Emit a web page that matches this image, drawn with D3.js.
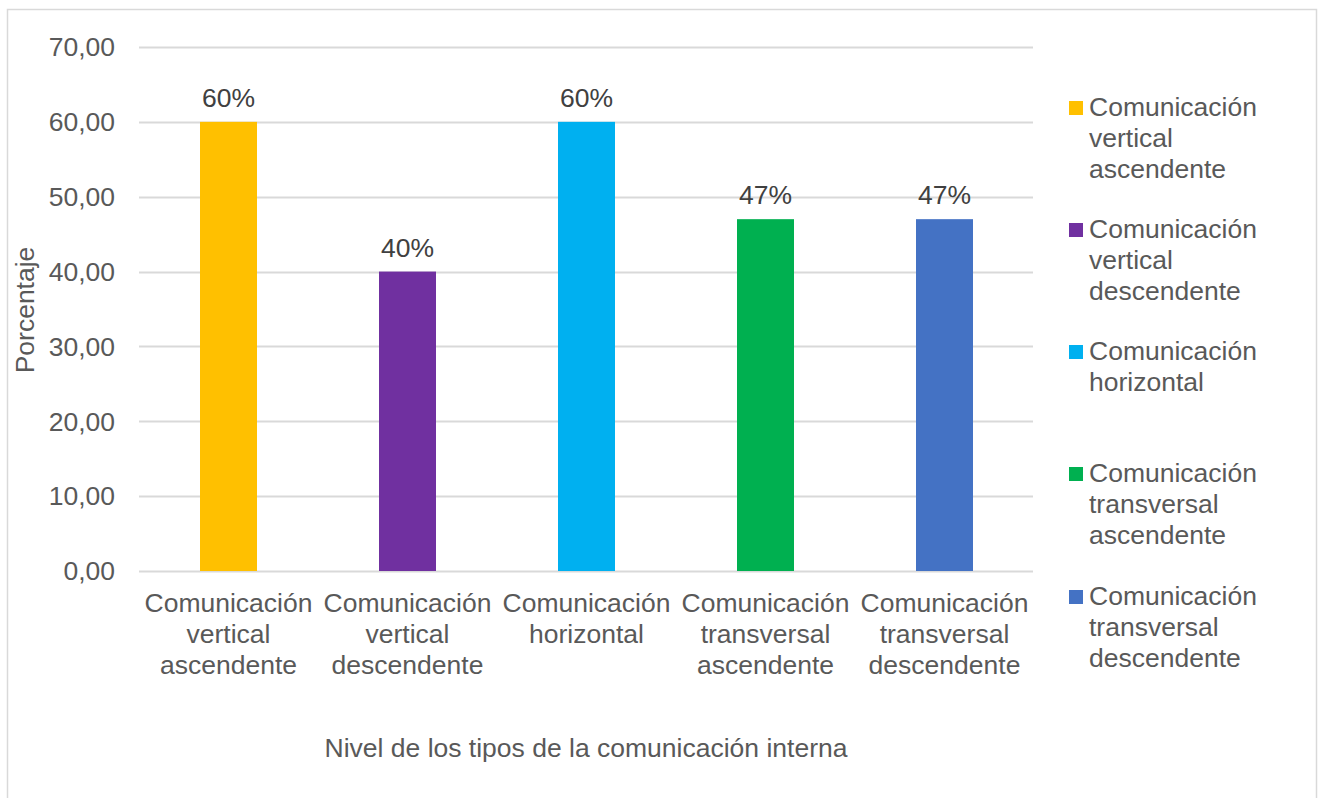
<!DOCTYPE html>
<html>
<head>
<meta charset="utf-8">
<script src="https://cdn.jsdelivr.net/npm/d3@7"></script>
<style>
  html, body { margin: 0; padding: 0; background: #fff; }
  svg { display: block; font-family: "Liberation Sans", Arial, sans-serif; }
</style>
</head>
<body>
<svg id="chart" width="1323" height="798"></svg>
<script>
// Communication types and their percentages
const categories = [
  ["Comunicación", "vertical", "ascendente"],
  ["Comunicación", "vertical", "descendente"],
  ["Comunicación", "horizontal"],
  ["Comunicación", "transversal", "ascendente"],
  ["Comunicación", "transversal", "descendente"]
];
const values = [60, 40, 60, 47, 47];
const valueLabels = ["60%", "40%", "60%", "47%", "47%"];
const colors = ["#FFC000", "#7030A0", "#00B0F0", "#00B050", "#4472C4"];
const yTicks = [0, 10, 20, 30, 40, 50, 60, 70];

const svg = d3.select("#chart");
const textColor = "#595959";
const fontSize = 26.5;

// outer frame
svg.append("rect")
  .attr("x", 7.5).attr("y", 9.5)
  .attr("width", 1309).attr("height", 800)
  .attr("fill", "#fff").attr("stroke", "#d9d9d9").attr("stroke-width", 1.5);

const plot = { left: 139, right: 1034, top: 47, bottom: 571 };

const x = d3.scaleBand()
  .domain(d3.range(categories.length))
  .range([plot.left, plot.right])
  .padding(0);

const y = d3.scaleLinear()
  .domain([0, 70])
  .range([plot.bottom, plot.top]);

const barW = 57;
const cx = i => x(i) + x.bandwidth() / 2;

// gridlines
svg.append("g")
  .selectAll("line")
  .data(yTicks)
  .join("line")
  .attr("x1", plot.left).attr("x2", plot.right - 1)
  .attr("y1", d => Math.round(y(d)) + 0.5).attr("y2", d => Math.round(y(d)) + 0.5)
  .attr("stroke", "#d9d9d9").attr("stroke-width", 2);

// y tick labels
svg.append("g")
  .selectAll("text")
  .data(yTicks)
  .join("text")
  .attr("x", 115)
  .attr("y", d => y(d))
  .attr("dy", "0.35em")
  .attr("text-anchor", "end")
  .attr("fill", textColor)
  .attr("font-size", fontSize)
  .text(d => d3.format(".2f")(d).replace(".", ","));

// bars
svg.append("g")
  .selectAll("rect")
  .data(values)
  .join("rect")
  .attr("x", (d, i) => cx(i) - barW / 2)
  .attr("y", d => y(d))
  .attr("width", barW)
  .attr("height", d => y(0) - y(d))
  .attr("fill", (d, i) => colors[i]);

// value labels
svg.append("g")
  .selectAll("text")
  .data(values)
  .join("text")
  .attr("x", (d, i) => cx(i))
  .attr("y", d => y(d) - 15)
  .attr("text-anchor", "middle")
  .attr("fill", "#404040")
  .attr("font-size", fontSize)
  .text((d, i) => valueLabels[i]);

// category labels
const catG = svg.append("g");
categories.forEach((lines, i) => {
  const t = catG.append("text")
    .attr("text-anchor", "middle")
    .attr("fill", textColor)
    .attr("font-size", fontSize);
  lines.forEach((ln, j) => {
    t.append("tspan")
      .attr("x", cx(i))
      .attr("y", 612 + j * 31)
      .text(ln);
  });
});

// axis titles
svg.append("text")
  .attr("x", 586)
  .attr("y", 757)
  .attr("text-anchor", "middle")
  .attr("fill", textColor)
  .attr("font-size", fontSize)
  .text("Nivel de los tipos de la comunicación interna");

svg.append("text")
  .attr("transform", "translate(34,310) rotate(-90)")
  .attr("text-anchor", "middle")
  .attr("fill", textColor)
  .attr("font-size", fontSize)
  .text("Porcentaje");

// legend
const legendTop = [116, 238, 360, 482, 605];
const lg = svg.append("g");
categories.forEach((lines, i) => {
  lg.append("rect")
    .attr("x", 1069).attr("y", legendTop[i] - 15)
    .attr("width", 14).attr("height", 14)
    .attr("fill", colors[i]);
  const t = lg.append("text")
    .attr("fill", textColor)
    .attr("font-size", fontSize);
  lines.forEach((ln, j) => {
    t.append("tspan")
      .attr("x", 1089)
      .attr("y", legendTop[i] + j * 31)
      .text(ln);
  });
});
</script>
</body>
</html>
